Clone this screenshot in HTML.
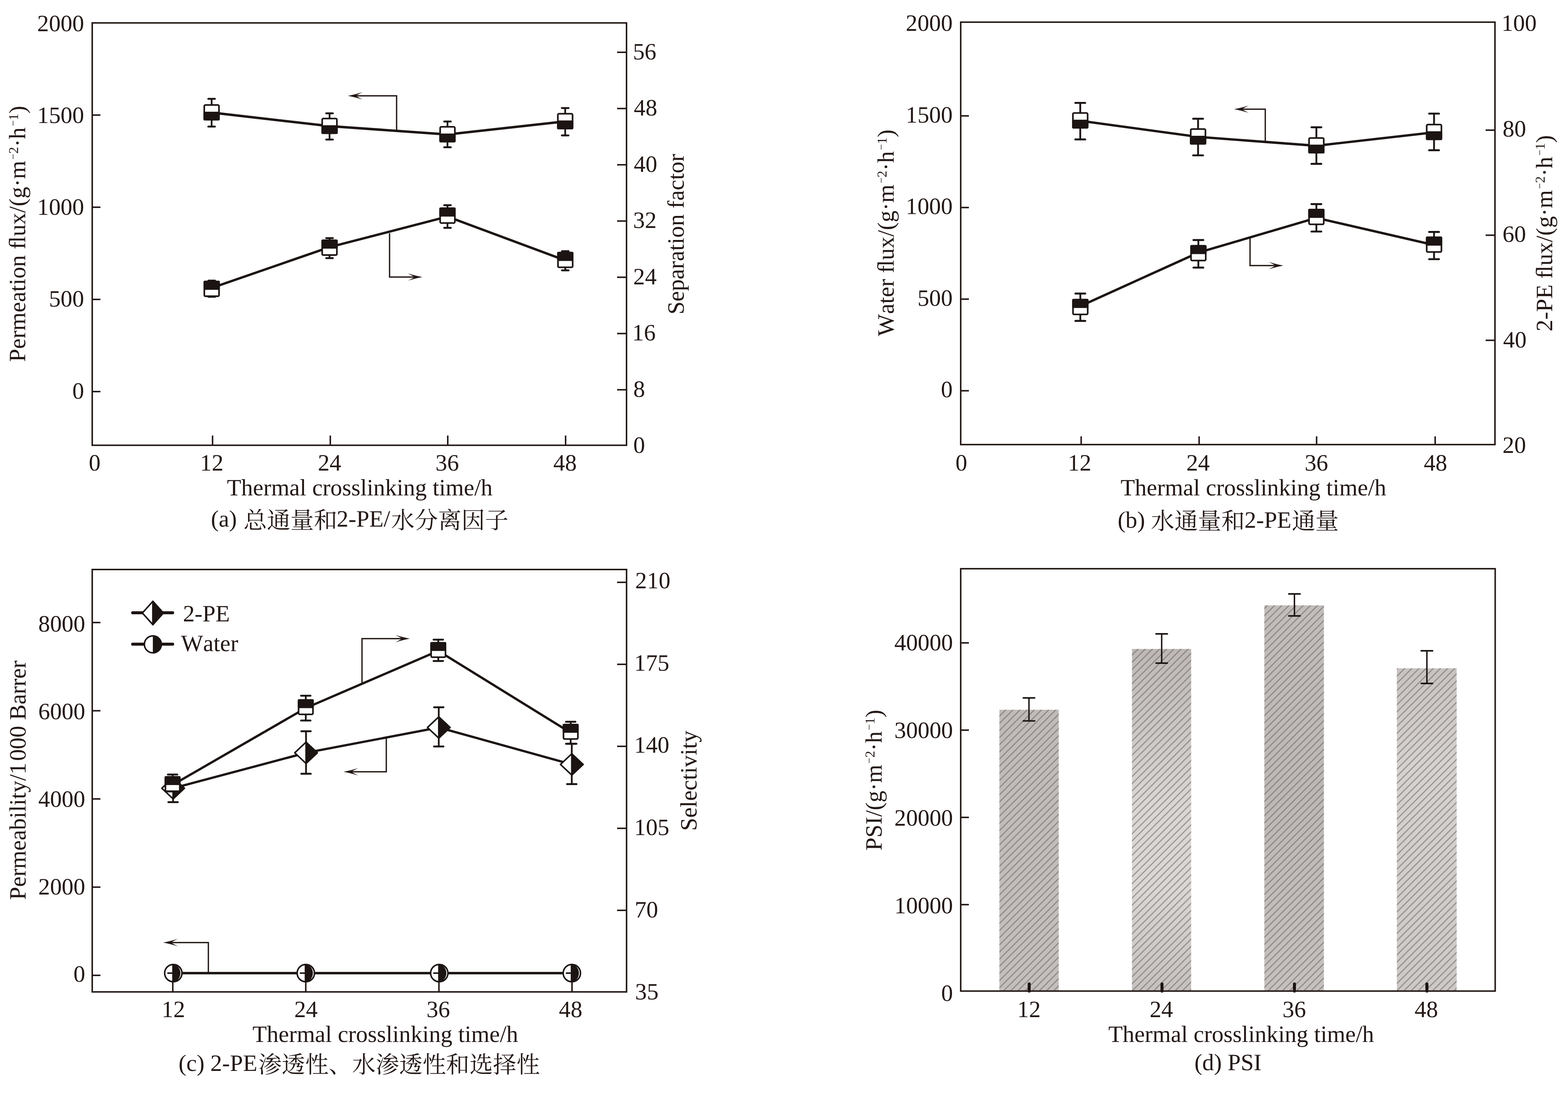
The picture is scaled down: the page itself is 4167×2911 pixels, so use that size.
<!DOCTYPE html>
<html><head><meta charset="utf-8"><title>figure</title>
<style>
html,body{margin:0;padding:0;background:#fff;}
body{width:4167px;height:2911px;overflow:hidden;}
svg{display:block;will-change:transform;}
text{font-family:"Liberation Serif",serif;fill:#231815;font-kerning:none;text-rendering:geometricPrecision;}
text.cjk{font-family:"Liberation Serif","Noto Serif CJK SC",serif;}
</style></head><body>
<svg width="4167" height="2911" viewBox="0 0 4167 2911">
<defs>
<pattern id="hatch" width="19" height="19" patternUnits="userSpaceOnUse">
<path d="M-2,21 L21,-2 M-2,2 L2,-2 M17,21 L21,17" stroke="#5a5453" stroke-opacity="0.5" stroke-width="3.0" fill="none"/>
</pattern>
<linearGradient id="gb1" x1="0" y1="0" x2="0" y2="1"><stop offset="0" stop-color="#c0bab8"/><stop offset="1" stop-color="#c4bfbd"/></linearGradient>
<linearGradient id="gb2" x1="0" y1="0" x2="0" y2="1"><stop offset="0" stop-color="#bdb8b6"/><stop offset="0.45" stop-color="#d9d6d3"/><stop offset="0.7" stop-color="#dad7d4"/><stop offset="1" stop-color="#c6c1bf"/></linearGradient>
<linearGradient id="gb3" x1="0" y1="0" x2="0" y2="1"><stop offset="0" stop-color="#c2bdbb"/><stop offset="0.5" stop-color="#bdb8b6"/><stop offset="1" stop-color="#c6c1bf"/></linearGradient>
<linearGradient id="gb4" x1="0" y1="0" x2="0" y2="1"><stop offset="0" stop-color="#c8c3c1"/><stop offset="0.3" stop-color="#d6d2d0"/><stop offset="1" stop-color="#cdc9c7"/></linearGradient>
</defs>
<rect width="4167" height="2911" fill="#fff"/>

<rect x="245.1" y="60.9" width="1419.9" height="1122.8" fill="none" stroke="#231815" stroke-width="4.0"/>
<line x1="245.1" y1="305.9" x2="266.9" y2="305.9" stroke="#231815" stroke-width="4.0" stroke-linecap="butt"/>
<line x1="245.1" y1="550.9" x2="266.9" y2="550.9" stroke="#231815" stroke-width="4.0" stroke-linecap="butt"/>
<line x1="245.1" y1="796.0" x2="266.9" y2="796.0" stroke="#231815" stroke-width="4.0" stroke-linecap="butt"/>
<line x1="245.1" y1="1041.0" x2="266.9" y2="1041.0" stroke="#231815" stroke-width="4.0" stroke-linecap="butt"/>
<text x="223.4" y="82.5" font-size="62.3" text-anchor="end" >2000</text>
<text x="223.4" y="326.8" font-size="62.3" text-anchor="end" >1500</text>
<text x="223.4" y="571.0" font-size="62.3" text-anchor="end" >1000</text>
<text x="223.4" y="815.3" font-size="62.3" text-anchor="end" >500</text>
<text x="223.4" y="1059.6" font-size="62.3" text-anchor="end" >0</text>
<line x1="1640.0" y1="139.0" x2="1665.0" y2="139.0" stroke="#231815" stroke-width="4.0" stroke-linecap="butt"/>
<line x1="1640.0" y1="288.5" x2="1665.0" y2="288.5" stroke="#231815" stroke-width="4.0" stroke-linecap="butt"/>
<line x1="1640.0" y1="438.1" x2="1665.0" y2="438.1" stroke="#231815" stroke-width="4.0" stroke-linecap="butt"/>
<line x1="1640.0" y1="587.6" x2="1665.0" y2="587.6" stroke="#231815" stroke-width="4.0" stroke-linecap="butt"/>
<line x1="1640.0" y1="737.1" x2="1665.0" y2="737.1" stroke="#231815" stroke-width="4.0" stroke-linecap="butt"/>
<line x1="1640.0" y1="886.7" x2="1665.0" y2="886.7" stroke="#231815" stroke-width="4.0" stroke-linecap="butt"/>
<line x1="1640.0" y1="1036.2" x2="1665.0" y2="1036.2" stroke="#231815" stroke-width="4.0" stroke-linecap="butt"/>
<text x="1681.9" y="157.6" font-size="62.3" text-anchor="start" >56</text>
<text x="1684.3" y="307.1" font-size="62.3" text-anchor="start" >48</text>
<text x="1684.3" y="456.7" font-size="62.3" text-anchor="start" >40</text>
<text x="1682.5" y="606.2" font-size="62.3" text-anchor="start" >32</text>
<text x="1682.8" y="755.8" font-size="62.3" text-anchor="start" >24</text>
<text x="1680.0" y="905.3" font-size="62.3" text-anchor="start" >16</text>
<text x="1683.1" y="1054.9" font-size="62.3" text-anchor="start" >8</text>
<text x="1683.1" y="1204.4" font-size="62.3" text-anchor="start" >0</text>
<line x1="564.9" y1="1183.7" x2="564.9" y2="1157.9" stroke="#231815" stroke-width="4.0" stroke-linecap="butt"/>
<line x1="877.8" y1="1183.7" x2="877.8" y2="1157.9" stroke="#231815" stroke-width="4.0" stroke-linecap="butt"/>
<line x1="1189.9" y1="1183.7" x2="1189.9" y2="1157.9" stroke="#231815" stroke-width="4.0" stroke-linecap="butt"/>
<line x1="1503.1" y1="1183.7" x2="1503.1" y2="1157.9" stroke="#231815" stroke-width="4.0" stroke-linecap="butt"/>
<text x="251.6" y="1251.3" font-size="62.3" text-anchor="middle" >0</text>
<text x="562.7" y="1251.3" font-size="62.3" text-anchor="middle" >12</text>
<text x="875.8" y="1251.3" font-size="62.3" text-anchor="middle" >24</text>
<text x="1188.4" y="1251.3" font-size="62.3" text-anchor="middle" >36</text>
<text x="1501.6" y="1251.3" font-size="62.3" text-anchor="middle" >48</text>
<text x="956.0" y="1316.8" font-size="62.3" text-anchor="middle" >Thermal crosslinking time/h</text>
<text transform="translate(67.4,621.6) rotate(-90)" font-size="62.3" text-anchor="middle" >Permeation ﬂux/(g·m<tspan dx="3" font-size="28" dy="-23.7">−</tspan><tspan font-size="36" dy="4.5">2</tspan><tspan dy="19.2">·h</tspan><tspan dx="3" font-size="28" dy="-23.7">−</tspan><tspan font-size="36" dy="4.5">1</tspan><tspan dy="19.2">)</tspan></text>
<text transform="translate(1816.5,622.5) rotate(-90)" font-size="62.3" text-anchor="middle" >Separation factor</text>
<polyline points="562.4,299.3 875.8,335.3 1189.2,357.5 1502.0,322.7" fill="none" stroke="#1b1412" stroke-width="6.6" stroke-linejoin="round"/>
<polyline points="562.6,765.5 875.8,657.0 1189.2,575.8 1502.3,692.2" fill="none" stroke="#1b1412" stroke-width="6.3" stroke-linejoin="round"/>
<line x1="562.4" y1="262.8" x2="562.4" y2="336.5" stroke="#1b1412" stroke-width="4.6" stroke-linecap="butt"/>
<line x1="553.6" y1="262.8" x2="571.1" y2="262.8" stroke="#1b1412" stroke-width="5.0" stroke-linecap="round"/>
<line x1="553.6" y1="336.5" x2="571.1" y2="336.5" stroke="#1b1412" stroke-width="5.0" stroke-linecap="round"/>
<rect x="542.8" y="279.1" width="39.1" height="39.1" rx="3" fill="#fff" stroke="#1b1412" stroke-width="4.3"/>
<rect x="540.7" y="296.9" width="43.4" height="23.4" rx="3" fill="#1b1412"/>
<line x1="875.8" y1="301.2" x2="875.8" y2="371.0" stroke="#1b1412" stroke-width="4.6" stroke-linecap="butt"/>
<line x1="867.0" y1="301.2" x2="884.5" y2="301.2" stroke="#1b1412" stroke-width="5.0" stroke-linecap="round"/>
<line x1="867.0" y1="371.0" x2="884.5" y2="371.0" stroke="#1b1412" stroke-width="5.0" stroke-linecap="round"/>
<rect x="856.2" y="315.1" width="39.1" height="39.1" rx="3" fill="#fff" stroke="#1b1412" stroke-width="4.3"/>
<rect x="854.1" y="332.9" width="43.4" height="23.4" rx="3" fill="#1b1412"/>
<line x1="1189.2" y1="323.0" x2="1189.2" y2="391.5" stroke="#1b1412" stroke-width="4.6" stroke-linecap="butt"/>
<line x1="1180.5" y1="323.0" x2="1198.0" y2="323.0" stroke="#1b1412" stroke-width="5.0" stroke-linecap="round"/>
<line x1="1180.5" y1="391.5" x2="1198.0" y2="391.5" stroke="#1b1412" stroke-width="5.0" stroke-linecap="round"/>
<rect x="1169.7" y="337.2" width="39.1" height="39.1" rx="3" fill="#fff" stroke="#1b1412" stroke-width="4.3"/>
<rect x="1167.5" y="355.1" width="43.4" height="23.4" rx="3" fill="#1b1412"/>
<line x1="1502.0" y1="287.2" x2="1502.0" y2="360.0" stroke="#1b1412" stroke-width="4.6" stroke-linecap="butt"/>
<line x1="1493.2" y1="287.2" x2="1510.8" y2="287.2" stroke="#1b1412" stroke-width="5.0" stroke-linecap="round"/>
<line x1="1493.2" y1="360.0" x2="1510.8" y2="360.0" stroke="#1b1412" stroke-width="5.0" stroke-linecap="round"/>
<rect x="1482.5" y="302.4" width="39.1" height="39.1" rx="3" fill="#fff" stroke="#1b1412" stroke-width="4.3"/>
<rect x="1480.3" y="320.3" width="43.4" height="23.4" rx="3" fill="#1b1412"/>
<line x1="562.6" y1="746.0" x2="562.6" y2="789.0" stroke="#1b1412" stroke-width="4.6" stroke-linecap="butt"/>
<line x1="553.9" y1="746.0" x2="571.4" y2="746.0" stroke="#1b1412" stroke-width="5.0" stroke-linecap="round"/>
<line x1="553.9" y1="789.0" x2="571.4" y2="789.0" stroke="#1b1412" stroke-width="5.0" stroke-linecap="round"/>
<rect x="543.0" y="748.4" width="39.1" height="39.1" rx="3" fill="#fff" stroke="#1b1412" stroke-width="4.3"/>
<rect x="540.9" y="746.3" width="43.4" height="24.2" rx="3" fill="#1b1412"/>
<line x1="875.8" y1="633.0" x2="875.8" y2="686.2" stroke="#1b1412" stroke-width="4.6" stroke-linecap="butt"/>
<line x1="867.0" y1="633.0" x2="884.5" y2="633.0" stroke="#1b1412" stroke-width="5.0" stroke-linecap="round"/>
<line x1="867.0" y1="686.2" x2="884.5" y2="686.2" stroke="#1b1412" stroke-width="5.0" stroke-linecap="round"/>
<rect x="856.2" y="638.9" width="39.1" height="39.1" rx="3" fill="#fff" stroke="#1b1412" stroke-width="4.3"/>
<rect x="854.1" y="636.8" width="43.4" height="24.2" rx="3" fill="#1b1412"/>
<line x1="1189.2" y1="545.6" x2="1189.2" y2="605.8" stroke="#1b1412" stroke-width="4.6" stroke-linecap="butt"/>
<line x1="1180.5" y1="545.6" x2="1198.0" y2="545.6" stroke="#1b1412" stroke-width="5.0" stroke-linecap="round"/>
<line x1="1180.5" y1="605.8" x2="1198.0" y2="605.8" stroke="#1b1412" stroke-width="5.0" stroke-linecap="round"/>
<rect x="1169.7" y="553.7" width="39.1" height="39.1" rx="3" fill="#fff" stroke="#1b1412" stroke-width="4.3"/>
<rect x="1167.5" y="551.6" width="43.4" height="24.2" rx="3" fill="#1b1412"/>
<line x1="1502.3" y1="667.7" x2="1502.3" y2="718.7" stroke="#1b1412" stroke-width="4.6" stroke-linecap="butt"/>
<line x1="1493.5" y1="667.7" x2="1511.0" y2="667.7" stroke="#1b1412" stroke-width="5.0" stroke-linecap="round"/>
<line x1="1493.5" y1="718.7" x2="1511.0" y2="718.7" stroke="#1b1412" stroke-width="5.0" stroke-linecap="round"/>
<rect x="1482.8" y="671.6" width="39.1" height="39.1" rx="3" fill="#fff" stroke="#1b1412" stroke-width="4.3"/>
<rect x="1480.6" y="669.5" width="43.4" height="24.2" rx="3" fill="#1b1412"/>
<polyline points="1054.0,349.0 1054.0,254.8 945.8,254.8" fill="none" stroke="#231815" stroke-width="3.5" stroke-linejoin="miter"/>
<path d="M924.5,254.8 Q945.8,250.7 963.2,245.0 L948.2,253.1 L948.2,256.6 L963.2,264.6 Q945.8,258.9 924.5,254.8 Z" fill="#231815"/>
<polyline points="1035.3,620.0 1035.3,736.6 1101.3,736.6" fill="none" stroke="#231815" stroke-width="3.5" stroke-linejoin="miter"/>
<path d="M1122.6,736.6 Q1101.3,732.5 1083.9,726.8 L1098.9,734.9 L1098.9,738.4 L1083.9,746.4 Q1101.3,740.7 1122.6,736.6 Z" fill="#231815"/>
<text x="560.4" y="1399.8" font-size="62.3" text-anchor="start">(a)</text>
<text class="cjk" x="646.9" y="1404.6" font-size="62.4" text-anchor="start">总通量和</text>
<text x="894.8" y="1399.8" font-size="62.3" text-anchor="start">2-PE/</text>
<text class="cjk" x="1039.2" y="1404.6" font-size="62.4" text-anchor="start">水分离因子</text>
<rect x="2553.1" y="58.9" width="1419.8" height="1123.0" fill="none" stroke="#231815" stroke-width="4.0"/>
<line x1="2553.1" y1="308.1" x2="2574.9" y2="308.1" stroke="#231815" stroke-width="4.0" stroke-linecap="butt"/>
<line x1="2553.1" y1="551.7" x2="2574.9" y2="551.7" stroke="#231815" stroke-width="4.0" stroke-linecap="butt"/>
<line x1="2553.1" y1="795.2" x2="2574.9" y2="795.2" stroke="#231815" stroke-width="4.0" stroke-linecap="butt"/>
<line x1="2553.1" y1="1038.8" x2="2574.9" y2="1038.8" stroke="#231815" stroke-width="4.0" stroke-linecap="butt"/>
<text x="2531.6" y="82.4" font-size="62.3" text-anchor="end" >2000</text>
<text x="2531.6" y="325.9" font-size="62.3" text-anchor="end" >1500</text>
<text x="2531.6" y="569.4" font-size="62.3" text-anchor="end" >1000</text>
<text x="2531.6" y="812.9" font-size="62.3" text-anchor="end" >500</text>
<text x="2531.6" y="1056.4" font-size="62.3" text-anchor="end" >0</text>
<line x1="3948.1" y1="346.0" x2="3972.9" y2="346.0" stroke="#231815" stroke-width="4.0" stroke-linecap="butt"/>
<line x1="3948.1" y1="625.3" x2="3972.9" y2="625.3" stroke="#231815" stroke-width="4.0" stroke-linecap="butt"/>
<line x1="3948.1" y1="904.7" x2="3972.9" y2="904.7" stroke="#231815" stroke-width="4.0" stroke-linecap="butt"/>
<text x="3990.2" y="82.4" font-size="62.3" text-anchor="start" >100</text>
<text x="3993.3" y="362.9" font-size="62.3" text-anchor="start" >80</text>
<text x="3993.0" y="643.3" font-size="62.3" text-anchor="start" >60</text>
<text x="3994.5" y="923.7" font-size="62.3" text-anchor="start" >40</text>
<text x="3993.0" y="1204.2" font-size="62.3" text-anchor="start" >20</text>
<line x1="2873.2" y1="1181.9" x2="2873.2" y2="1160.1" stroke="#231815" stroke-width="4.0" stroke-linecap="butt"/>
<line x1="3186.7" y1="1181.9" x2="3186.7" y2="1160.1" stroke="#231815" stroke-width="4.0" stroke-linecap="butt"/>
<line x1="3498.9" y1="1181.9" x2="3498.9" y2="1160.1" stroke="#231815" stroke-width="4.0" stroke-linecap="butt"/>
<line x1="3814.0" y1="1181.9" x2="3814.0" y2="1160.1" stroke="#231815" stroke-width="4.0" stroke-linecap="butt"/>
<text x="2554.9" y="1251.0" font-size="62.3" text-anchor="middle" >0</text>
<text x="2869.0" y="1251.0" font-size="62.3" text-anchor="middle" >12</text>
<text x="3183.8" y="1251.0" font-size="62.3" text-anchor="middle" >24</text>
<text x="3498.3" y="1251.0" font-size="62.3" text-anchor="middle" >36</text>
<text x="3814.8" y="1251.0" font-size="62.3" text-anchor="middle" >48</text>
<text x="3331.0" y="1316.8" font-size="62.3" text-anchor="middle" >Thermal crosslinking time/h</text>
<text transform="translate(2375.0,619.0) rotate(-90)" font-size="62.3" text-anchor="middle" >Water ﬂux/(g·m<tspan dx="3" font-size="28" dy="-23.7">−</tspan><tspan font-size="36" dy="4.5">2</tspan><tspan dy="19.2">·h</tspan><tspan dx="3" font-size="28" dy="-23.7">−</tspan><tspan font-size="36" dy="4.5">1</tspan><tspan dy="19.2">)</tspan></text>
<text transform="translate(4124.6,620.0) rotate(-90)" font-size="62.3" text-anchor="middle" >2-PE ﬂux/(g·m<tspan dx="3" font-size="28" dy="-23.7">−</tspan><tspan font-size="36" dy="4.5">2</tspan><tspan dy="19.2">·h</tspan><tspan dx="3" font-size="28" dy="-23.7">−</tspan><tspan font-size="36" dy="4.5">1</tspan><tspan dy="19.2">)</tspan></text>
<polyline points="2870.8,321.2 3183.9,363.9 3498.3,387.5 3811.0,351.9" fill="none" stroke="#1b1412" stroke-width="6.3" stroke-linejoin="round"/>
<polyline points="2871.0,813.8 3184.7,671.6 3498.3,579.3 3811.0,651.4" fill="none" stroke="#1b1412" stroke-width="6.3" stroke-linejoin="round"/>
<line x1="2870.8" y1="273.5" x2="2870.8" y2="370.7" stroke="#1b1412" stroke-width="4.8" stroke-linecap="butt"/>
<line x1="2857.8" y1="273.5" x2="2883.8" y2="273.5" stroke="#1b1412" stroke-width="5.2" stroke-linecap="round"/>
<line x1="2857.8" y1="370.7" x2="2883.8" y2="370.7" stroke="#1b1412" stroke-width="5.2" stroke-linecap="round"/>
<rect x="2851.3" y="300.4" width="39.1" height="39.1" rx="3" fill="#fff" stroke="#1b1412" stroke-width="4.3"/>
<rect x="2849.1" y="318.3" width="43.4" height="23.4" rx="3" fill="#1b1412"/>
<line x1="3183.9" y1="315.7" x2="3183.9" y2="413.0" stroke="#1b1412" stroke-width="4.8" stroke-linecap="butt"/>
<line x1="3170.9" y1="315.7" x2="3196.9" y2="315.7" stroke="#1b1412" stroke-width="5.2" stroke-linecap="round"/>
<line x1="3170.9" y1="413.0" x2="3196.9" y2="413.0" stroke="#1b1412" stroke-width="5.2" stroke-linecap="round"/>
<rect x="3164.4" y="343.1" width="39.1" height="39.1" rx="3" fill="#fff" stroke="#1b1412" stroke-width="4.3"/>
<rect x="3162.2" y="361.0" width="43.4" height="23.4" rx="3" fill="#1b1412"/>
<line x1="3498.3" y1="338.3" x2="3498.3" y2="435.6" stroke="#1b1412" stroke-width="4.8" stroke-linecap="butt"/>
<line x1="3485.3" y1="338.3" x2="3511.3" y2="338.3" stroke="#1b1412" stroke-width="5.2" stroke-linecap="round"/>
<line x1="3485.3" y1="435.6" x2="3511.3" y2="435.6" stroke="#1b1412" stroke-width="5.2" stroke-linecap="round"/>
<rect x="3478.8" y="366.8" width="39.1" height="39.1" rx="3" fill="#fff" stroke="#1b1412" stroke-width="4.3"/>
<rect x="3476.6" y="384.6" width="43.4" height="23.4" rx="3" fill="#1b1412"/>
<line x1="3811.0" y1="302.0" x2="3811.0" y2="399.4" stroke="#1b1412" stroke-width="4.8" stroke-linecap="butt"/>
<line x1="3798.0" y1="302.0" x2="3824.0" y2="302.0" stroke="#1b1412" stroke-width="5.2" stroke-linecap="round"/>
<line x1="3798.0" y1="399.4" x2="3824.0" y2="399.4" stroke="#1b1412" stroke-width="5.2" stroke-linecap="round"/>
<rect x="3791.5" y="331.1" width="39.1" height="39.1" rx="3" fill="#fff" stroke="#1b1412" stroke-width="4.3"/>
<rect x="3789.3" y="349.0" width="43.4" height="23.4" rx="3" fill="#1b1412"/>
<line x1="2871.0" y1="780.3" x2="2871.0" y2="853.2" stroke="#1b1412" stroke-width="4.8" stroke-linecap="butt"/>
<line x1="2858.0" y1="780.3" x2="2884.0" y2="780.3" stroke="#1b1412" stroke-width="5.2" stroke-linecap="round"/>
<line x1="2858.0" y1="853.2" x2="2884.0" y2="853.2" stroke="#1b1412" stroke-width="5.2" stroke-linecap="round"/>
<rect x="2851.5" y="796.7" width="39.1" height="39.1" rx="3" fill="#fff" stroke="#1b1412" stroke-width="4.3"/>
<rect x="2849.3" y="794.6" width="43.4" height="24.2" rx="3" fill="#1b1412"/>
<line x1="3184.7" y1="638.1" x2="3184.7" y2="711.3" stroke="#1b1412" stroke-width="4.8" stroke-linecap="butt"/>
<line x1="3171.7" y1="638.1" x2="3197.7" y2="638.1" stroke="#1b1412" stroke-width="5.2" stroke-linecap="round"/>
<line x1="3171.7" y1="711.3" x2="3197.7" y2="711.3" stroke="#1b1412" stroke-width="5.2" stroke-linecap="round"/>
<rect x="3165.2" y="653.5" width="39.1" height="39.1" rx="3" fill="#fff" stroke="#1b1412" stroke-width="4.3"/>
<rect x="3163.0" y="651.4" width="43.4" height="24.2" rx="3" fill="#1b1412"/>
<line x1="3498.3" y1="542.6" x2="3498.3" y2="615.5" stroke="#1b1412" stroke-width="4.8" stroke-linecap="butt"/>
<line x1="3485.3" y1="542.6" x2="3511.3" y2="542.6" stroke="#1b1412" stroke-width="5.2" stroke-linecap="round"/>
<line x1="3485.3" y1="615.5" x2="3511.3" y2="615.5" stroke="#1b1412" stroke-width="5.2" stroke-linecap="round"/>
<rect x="3478.8" y="557.2" width="39.1" height="39.1" rx="3" fill="#fff" stroke="#1b1412" stroke-width="4.3"/>
<rect x="3476.6" y="555.1" width="43.4" height="24.2" rx="3" fill="#1b1412"/>
<line x1="3811.0" y1="616.7" x2="3811.0" y2="689.0" stroke="#1b1412" stroke-width="4.8" stroke-linecap="butt"/>
<line x1="3798.0" y1="616.7" x2="3824.0" y2="616.7" stroke="#1b1412" stroke-width="5.2" stroke-linecap="round"/>
<line x1="3798.0" y1="689.0" x2="3824.0" y2="689.0" stroke="#1b1412" stroke-width="5.2" stroke-linecap="round"/>
<rect x="3791.5" y="630.8" width="39.1" height="39.1" rx="3" fill="#fff" stroke="#1b1412" stroke-width="4.3"/>
<rect x="3789.3" y="628.7" width="43.4" height="24.2" rx="3" fill="#1b1412"/>
<polyline points="3362.5,374.5 3362.5,290.3 3300.9,290.3" fill="none" stroke="#231815" stroke-width="3.5" stroke-linejoin="miter"/>
<path d="M3279.6,290.3 Q3300.9,286.2 3318.3,280.5 L3303.3,288.6 L3303.3,292.1 L3318.3,300.1 Q3300.9,294.4 3279.6,290.3 Z" fill="#231815"/>
<polyline points="3322.0,632.7 3322.0,706.0 3389.3,706.0" fill="none" stroke="#231815" stroke-width="3.5" stroke-linejoin="miter"/>
<path d="M3410.6,706.0 Q3389.3,701.9 3371.9,696.2 L3386.9,704.2 L3386.9,707.8 L3371.9,715.8 Q3389.3,710.1 3410.6,706.0 Z" fill="#231815"/>
<text x="2970.3" y="1402.5" font-size="62.3" text-anchor="start">(b)</text>
<text class="cjk" x="3058.5" y="1407.3" font-size="62.4" text-anchor="start">水通量和</text>
<text x="3307.3" y="1402.5" font-size="62.3" text-anchor="start">2-PE</text>
<text class="cjk" x="3433.0" y="1407.3" font-size="62.4" text-anchor="start">通量</text>
<rect x="245.1" y="1514.0" width="1420.0" height="1122.9" fill="none" stroke="#231815" stroke-width="4.0"/>
<line x1="245.1" y1="1655.0" x2="266.9" y2="1655.0" stroke="#231815" stroke-width="4.0" stroke-linecap="butt"/>
<line x1="245.1" y1="1889.5" x2="266.9" y2="1889.5" stroke="#231815" stroke-width="4.0" stroke-linecap="butt"/>
<line x1="245.1" y1="2123.9" x2="266.9" y2="2123.9" stroke="#231815" stroke-width="4.0" stroke-linecap="butt"/>
<line x1="245.1" y1="2358.4" x2="266.9" y2="2358.4" stroke="#231815" stroke-width="4.0" stroke-linecap="butt"/>
<line x1="245.1" y1="2592.9" x2="266.9" y2="2592.9" stroke="#231815" stroke-width="4.0" stroke-linecap="butt"/>
<text x="226.4" y="1679.4" font-size="62.3" text-anchor="end" >8000</text>
<text x="226.4" y="1912.1" font-size="62.3" text-anchor="end" >6000</text>
<text x="226.4" y="2144.9" font-size="62.3" text-anchor="end" >4000</text>
<text x="226.4" y="2377.6" font-size="62.3" text-anchor="end" >2000</text>
<text x="226.4" y="2610.3" font-size="62.3" text-anchor="end" >0</text>
<line x1="1640.0" y1="1548.1" x2="1665.0" y2="1548.1" stroke="#231815" stroke-width="4.0" stroke-linecap="butt"/>
<line x1="1640.0" y1="1766.1" x2="1665.0" y2="1766.1" stroke="#231815" stroke-width="4.0" stroke-linecap="butt"/>
<line x1="1640.0" y1="1984.1" x2="1665.0" y2="1984.1" stroke="#231815" stroke-width="4.0" stroke-linecap="butt"/>
<line x1="1640.0" y1="2202.1" x2="1665.0" y2="2202.1" stroke="#231815" stroke-width="4.0" stroke-linecap="butt"/>
<line x1="1640.0" y1="2420.1" x2="1665.0" y2="2420.1" stroke="#231815" stroke-width="4.0" stroke-linecap="butt"/>
<text x="1688.1" y="1564.4" font-size="62.3" text-anchor="start" >210</text>
<text x="1685.3" y="1782.9" font-size="62.3" text-anchor="start" >175</text>
<text x="1685.3" y="2001.4" font-size="62.3" text-anchor="start" >140</text>
<text x="1685.3" y="2220.0" font-size="62.3" text-anchor="start" >105</text>
<text x="1686.7" y="2438.5" font-size="62.3" text-anchor="start" >70</text>
<text x="1687.8" y="2657.0" font-size="62.3" text-anchor="start" >35</text>
<line x1="459.2" y1="2636.9" x2="459.2" y2="2610.9" stroke="#231815" stroke-width="4.0" stroke-linecap="butt"/>
<line x1="812.6" y1="2636.9" x2="812.6" y2="2610.9" stroke="#231815" stroke-width="4.0" stroke-linecap="butt"/>
<line x1="1166.5" y1="2636.9" x2="1166.5" y2="2610.9" stroke="#231815" stroke-width="4.0" stroke-linecap="butt"/>
<line x1="1520.1" y1="2636.9" x2="1520.1" y2="2610.9" stroke="#231815" stroke-width="4.0" stroke-linecap="butt"/>
<text x="460.7" y="2704.0" font-size="62.3" text-anchor="middle" >12</text>
<text x="813.1" y="2704.0" font-size="62.3" text-anchor="middle" >24</text>
<text x="1164.7" y="2704.0" font-size="62.3" text-anchor="middle" >36</text>
<text x="1516.5" y="2704.0" font-size="62.3" text-anchor="middle" >48</text>
<text x="1024.0" y="2769.6" font-size="62.3" text-anchor="middle" >Thermal crosslinking time/h</text>
<text transform="translate(67.7,2074.2) rotate(-90)" font-size="62.3" text-anchor="middle" letter-spacing="-0.15">Permeability/1<tspan dx="5">000</tspan> Barrer</text>
<text transform="translate(1850.9,2075.5) rotate(-90)" font-size="62.3" text-anchor="middle" >Selectivity</text>
<line x1="352.5" y1="1629.0" x2="458.8" y2="1629.0" stroke="#1b1412" stroke-width="8" stroke-linecap="round"/>
<path d="M378.4,1629.6 L406.2,1598.5 L434.0,1629.6 L406.2,1660.7 Z" fill="#fff" stroke="#1b1412" stroke-width="4" stroke-linejoin="round"/>
<path d="M406.2,1598.5 L434.0,1629.6 L406.2,1660.7 Z" fill="#1b1412" stroke="#1b1412" stroke-width="4" stroke-linejoin="round"/>
<text x="486.2" y="1652.4" font-size="62.3" text-anchor="start" >2-PE</text>
<line x1="352.5" y1="1712.5" x2="458.8" y2="1712.5" stroke="#1b1412" stroke-width="8" stroke-linecap="round"/>
<circle cx="406.2" cy="1713.0" r="22.5" fill="#fff" stroke="#1b1412" stroke-width="4"/>
<path d="M406.2,1688.5 A24.5,24.5 0 0 1 406.2,1737.5 Z" fill="#1b1412"/>
<text x="481.0" y="1731.0" font-size="62.3" text-anchor="start" >Water</text>
<polyline points="459.2,2587.0 812.6,2587.0 1166.5,2587.0 1520.1,2587.0" fill="none" stroke="#1b1412" stroke-width="6.6" stroke-linejoin="round"/>
<polyline points="460.0,2095.5 813.3,2001.3 1166.0,1934.0 1519.5,2032.2" fill="none" stroke="#1b1412" stroke-width="6.1" stroke-linejoin="round"/>
<polyline points="458.7,2086.7 812.6,1882.3 1164.8,1730.3 1516.6,1947.8" fill="none" stroke="#1b1412" stroke-width="6.1" stroke-linejoin="round"/>
<line x1="460.0" y1="2070.0" x2="460.0" y2="2132.6" stroke="#1b1412" stroke-width="4.6" stroke-linecap="butt"/>
<line x1="447.5" y1="2070.0" x2="472.5" y2="2070.0" stroke="#1b1412" stroke-width="5.0" stroke-linecap="round"/>
<line x1="447.5" y1="2132.6" x2="472.5" y2="2132.6" stroke="#1b1412" stroke-width="5.0" stroke-linecap="round"/>
<path d="M430.0,2095.5 L460.0,2067.2 L490.0,2095.5 L460.0,2123.8 Z" fill="#fff" stroke="#1b1412" stroke-width="4" stroke-linejoin="round"/>
<path d="M460.0,2067.2 L490.0,2095.5 L460.0,2123.8 Z" fill="#1b1412" stroke="#1b1412" stroke-width="4" stroke-linejoin="round"/>
<line x1="813.3" y1="1944.1" x2="813.3" y2="2057.1" stroke="#1b1412" stroke-width="4.6" stroke-linecap="butt"/>
<line x1="800.8" y1="1944.1" x2="825.8" y2="1944.1" stroke="#1b1412" stroke-width="5.0" stroke-linecap="round"/>
<line x1="800.8" y1="2057.1" x2="825.8" y2="2057.1" stroke="#1b1412" stroke-width="5.0" stroke-linecap="round"/>
<path d="M783.3,2001.3 L813.3,1973.0 L843.3,2001.3 L813.3,2029.6 Z" fill="#fff" stroke="#1b1412" stroke-width="4" stroke-linejoin="round"/>
<path d="M813.3,1973.0 L843.3,2001.3 L813.3,2029.6 Z" fill="#1b1412" stroke="#1b1412" stroke-width="4" stroke-linejoin="round"/>
<line x1="1166.0" y1="1880.3" x2="1166.0" y2="1984.5" stroke="#1b1412" stroke-width="4.6" stroke-linecap="butt"/>
<line x1="1153.5" y1="1880.3" x2="1178.5" y2="1880.3" stroke="#1b1412" stroke-width="5.0" stroke-linecap="round"/>
<line x1="1153.5" y1="1984.5" x2="1178.5" y2="1984.5" stroke="#1b1412" stroke-width="5.0" stroke-linecap="round"/>
<path d="M1136.0,1934.0 L1166.0,1905.7 L1196.0,1934.0 L1166.0,1962.3 Z" fill="#fff" stroke="#1b1412" stroke-width="4" stroke-linejoin="round"/>
<path d="M1166.0,1905.7 L1196.0,1934.0 L1166.0,1962.3 Z" fill="#1b1412" stroke="#1b1412" stroke-width="4" stroke-linejoin="round"/>
<line x1="1519.5" y1="1977.2" x2="1519.5" y2="2084.6" stroke="#1b1412" stroke-width="4.6" stroke-linecap="butt"/>
<line x1="1507.0" y1="1977.2" x2="1532.0" y2="1977.2" stroke="#1b1412" stroke-width="5.0" stroke-linecap="round"/>
<line x1="1507.0" y1="2084.6" x2="1532.0" y2="2084.6" stroke="#1b1412" stroke-width="5.0" stroke-linecap="round"/>
<path d="M1489.5,2032.2 L1519.5,2003.9 L1549.5,2032.2 L1519.5,2060.5 Z" fill="#fff" stroke="#1b1412" stroke-width="4" stroke-linejoin="round"/>
<path d="M1519.5,2003.9 L1549.5,2032.2 L1519.5,2060.5 Z" fill="#1b1412" stroke="#1b1412" stroke-width="4" stroke-linejoin="round"/>
<line x1="458.7" y1="2059.0" x2="458.7" y2="2104.0" stroke="#1b1412" stroke-width="4.6" stroke-linecap="butt"/>
<line x1="446.2" y1="2059.0" x2="471.2" y2="2059.0" stroke="#1b1412" stroke-width="5.0" stroke-linecap="round"/>
<line x1="446.2" y1="2104.0" x2="471.2" y2="2104.0" stroke="#1b1412" stroke-width="5.0" stroke-linecap="round"/>
<rect x="439.6" y="2065.3" width="38.2" height="38.2" rx="3" fill="#fff" stroke="#1b1412" stroke-width="4.3"/>
<rect x="437.4" y="2063.2" width="42.5" height="23.8" rx="3" fill="#1b1412"/>
<line x1="812.6" y1="1849.4" x2="812.6" y2="1915.6" stroke="#1b1412" stroke-width="4.6" stroke-linecap="butt"/>
<line x1="800.1" y1="1849.4" x2="825.1" y2="1849.4" stroke="#1b1412" stroke-width="5.0" stroke-linecap="round"/>
<line x1="800.1" y1="1915.6" x2="825.1" y2="1915.6" stroke="#1b1412" stroke-width="5.0" stroke-linecap="round"/>
<rect x="793.5" y="1860.9" width="38.2" height="38.2" rx="3" fill="#fff" stroke="#1b1412" stroke-width="4.3"/>
<rect x="791.4" y="1858.8" width="42.5" height="23.8" rx="3" fill="#1b1412"/>
<line x1="1164.8" y1="1700.4" x2="1164.8" y2="1757.2" stroke="#1b1412" stroke-width="4.6" stroke-linecap="butt"/>
<line x1="1152.3" y1="1700.4" x2="1177.3" y2="1700.4" stroke="#1b1412" stroke-width="5.0" stroke-linecap="round"/>
<line x1="1152.3" y1="1757.2" x2="1177.3" y2="1757.2" stroke="#1b1412" stroke-width="5.0" stroke-linecap="round"/>
<rect x="1145.7" y="1708.9" width="38.2" height="38.2" rx="3" fill="#fff" stroke="#1b1412" stroke-width="4.3"/>
<rect x="1143.5" y="1706.8" width="42.5" height="23.8" rx="3" fill="#1b1412"/>
<line x1="1516.6" y1="1918.8" x2="1516.6" y2="1977.2" stroke="#1b1412" stroke-width="4.6" stroke-linecap="butt"/>
<line x1="1504.1" y1="1918.8" x2="1529.1" y2="1918.8" stroke="#1b1412" stroke-width="5.0" stroke-linecap="round"/>
<line x1="1504.1" y1="1977.2" x2="1529.1" y2="1977.2" stroke="#1b1412" stroke-width="5.0" stroke-linecap="round"/>
<rect x="1497.5" y="1926.4" width="38.2" height="38.2" rx="3" fill="#fff" stroke="#1b1412" stroke-width="4.3"/>
<rect x="1495.3" y="1924.2" width="42.5" height="23.8" rx="3" fill="#1b1412"/>
<circle cx="460.6" cy="2587.0" r="23.0" fill="#fff" stroke="#1b1412" stroke-width="4"/>
<path d="M457.6,2562.2 A25.0,25.0 0 0 1 457.6,2611.8 Z" fill="#1b1412"/>
<line x1="446.1" y1="2587.0" x2="457.6" y2="2587.0" stroke="#1b1412" stroke-width="4" stroke-linecap="round"/>
<circle cx="812.7" cy="2587.0" r="23.0" fill="#fff" stroke="#1b1412" stroke-width="4"/>
<path d="M809.7,2562.2 A25.0,25.0 0 0 1 809.7,2611.8 Z" fill="#1b1412"/>
<line x1="798.2" y1="2587.0" x2="809.7" y2="2587.0" stroke="#1b1412" stroke-width="4" stroke-linecap="round"/>
<circle cx="1167.4" cy="2587.0" r="23.0" fill="#fff" stroke="#1b1412" stroke-width="4"/>
<path d="M1164.4,2562.2 A25.0,25.0 0 0 1 1164.4,2611.8 Z" fill="#1b1412"/>
<line x1="1152.9" y1="2587.0" x2="1164.4" y2="2587.0" stroke="#1b1412" stroke-width="4" stroke-linecap="round"/>
<circle cx="1519.7" cy="2587.0" r="23.0" fill="#fff" stroke="#1b1412" stroke-width="4"/>
<path d="M1516.7,2562.2 A25.0,25.0 0 0 1 1516.7,2611.8 Z" fill="#1b1412"/>
<line x1="1505.2" y1="2587.0" x2="1516.7" y2="2587.0" stroke="#1b1412" stroke-width="4" stroke-linecap="round"/>
<polyline points="962.0,1816.0 962.0,1697.8 1068.2,1697.8" fill="none" stroke="#231815" stroke-width="3.5" stroke-linejoin="miter"/>
<path d="M1089.5,1697.8 Q1068.2,1693.7 1050.8,1688.0 L1065.8,1696.0 L1065.8,1699.5 L1050.8,1707.6 Q1068.2,1701.9 1089.5,1697.8 Z" fill="#231815"/>
<polyline points="1026.6,1960.0 1026.6,2051.8 934.1,2051.8" fill="none" stroke="#231815" stroke-width="3.5" stroke-linejoin="miter"/>
<path d="M912.8,2051.8 Q934.1,2047.7 951.5,2042.0 L936.5,2050.1 L936.5,2053.6 L951.5,2061.6 Q934.1,2055.9 912.8,2051.8 Z" fill="#231815"/>
<polyline points="553.7,2587.0 553.7,2505.7 454.8,2505.7" fill="none" stroke="#231815" stroke-width="3.5" stroke-linejoin="miter"/>
<path d="M433.5,2505.7 Q454.8,2501.6 472.2,2495.9 L457.2,2503.9 L457.2,2507.4 L472.2,2515.5 Q454.8,2509.8 433.5,2505.7 Z" fill="#231815"/>
<text x="474.4" y="2846.8" font-size="62.3" text-anchor="start">(c) 2-PE</text>
<text class="cjk" x="686.2" y="2851.6" font-size="62.4" text-anchor="start">渗透性、水渗透性和选择性</text>
<rect x="2655.9" y="1886.8" width="157.7" height="747.9" fill="url(#gb1)"/>
<rect x="2655.9" y="1886.8" width="157.7" height="747.9" fill="url(#hatch)"/>
<line x1="2735.1" y1="2634.7" x2="2735.1" y2="2615.7" stroke="#1b1412" stroke-width="8" stroke-linecap="round"/>
<rect x="3008.2" y="1725.2" width="157.3" height="909.5" fill="url(#gb2)"/>
<rect x="3008.2" y="1725.2" width="157.3" height="909.5" fill="url(#hatch)"/>
<line x1="3088.0" y1="2634.7" x2="3088.0" y2="2615.7" stroke="#1b1412" stroke-width="8" stroke-linecap="round"/>
<rect x="3360.0" y="1609.3" width="158.3" height="1025.4" fill="url(#gb3)"/>
<rect x="3360.0" y="1609.3" width="158.3" height="1025.4" fill="url(#hatch)"/>
<line x1="3440.0" y1="2634.7" x2="3440.0" y2="2615.7" stroke="#1b1412" stroke-width="8" stroke-linecap="round"/>
<rect x="3712.2" y="1776.6" width="158.9" height="858.1" fill="url(#gb4)"/>
<rect x="3712.2" y="1776.6" width="158.9" height="858.1" fill="url(#hatch)"/>
<line x1="3792.0" y1="2634.7" x2="3792.0" y2="2615.7" stroke="#1b1412" stroke-width="8" stroke-linecap="round"/>
<rect x="2553.1" y="1511.9" width="1420.4" height="1122.8" fill="none" stroke="#231815" stroke-width="4.0"/>
<line x1="2553.1" y1="1709.1" x2="2574.9" y2="1709.1" stroke="#231815" stroke-width="4.0" stroke-linecap="butt"/>
<line x1="2553.1" y1="1941.0" x2="2574.9" y2="1941.0" stroke="#231815" stroke-width="4.0" stroke-linecap="butt"/>
<line x1="2553.1" y1="2173.0" x2="2574.9" y2="2173.0" stroke="#231815" stroke-width="4.0" stroke-linecap="butt"/>
<line x1="2553.1" y1="2404.9" x2="2574.9" y2="2404.9" stroke="#231815" stroke-width="4.0" stroke-linecap="butt"/>
<text x="2532.5" y="1729.3" font-size="62.3" text-anchor="end" >40000</text>
<text x="2532.5" y="1962.3" font-size="62.3" text-anchor="end" >30000</text>
<text x="2532.5" y="2195.3" font-size="62.3" text-anchor="end" >20000</text>
<text x="2532.5" y="2428.4" font-size="62.3" text-anchor="end" >10000</text>
<text x="2532.5" y="2661.4" font-size="62.3" text-anchor="end" >0</text>
<text x="2734.4" y="2703.6" font-size="62.3" text-anchor="middle" >12</text>
<text x="3086.3" y="2703.6" font-size="62.3" text-anchor="middle" >24</text>
<text x="3439.4" y="2703.6" font-size="62.3" text-anchor="middle" >36</text>
<text x="3790.5" y="2703.6" font-size="62.3" text-anchor="middle" >48</text>
<text x="3298.4" y="2770.0" font-size="62.3" text-anchor="middle" >Thermal crosslinking time/h</text>
<text transform="translate(2343.0,2074.0) rotate(-90)" font-size="62.3" text-anchor="middle" >PSI/(g·m<tspan dx="3" font-size="28" dy="-23.7">−</tspan><tspan font-size="36" dy="4.5">2</tspan><tspan dy="19.2">·h</tspan><tspan dx="3" font-size="28" dy="-23.7">−</tspan><tspan font-size="36" dy="4.5">1</tspan><tspan dy="19.2">)</tspan></text>
<line x1="2734.5" y1="1855.4" x2="2734.5" y2="1916.5" stroke="#1b1412" stroke-width="3.8" stroke-linecap="butt"/>
<line x1="2719.5" y1="1855.4" x2="2749.5" y2="1855.4" stroke="#1b1412" stroke-width="4.2" stroke-linecap="round"/>
<line x1="2719.5" y1="1916.5" x2="2749.5" y2="1916.5" stroke="#1b1412" stroke-width="4.2" stroke-linecap="round"/>
<line x1="3087.2" y1="1685.2" x2="3087.2" y2="1762.8" stroke="#1b1412" stroke-width="3.8" stroke-linecap="butt"/>
<line x1="3072.2" y1="1685.2" x2="3102.2" y2="1685.2" stroke="#1b1412" stroke-width="4.2" stroke-linecap="round"/>
<line x1="3072.2" y1="1762.8" x2="3102.2" y2="1762.8" stroke="#1b1412" stroke-width="4.2" stroke-linecap="round"/>
<line x1="3440.0" y1="1578.9" x2="3440.0" y2="1637.4" stroke="#1b1412" stroke-width="3.8" stroke-linecap="butt"/>
<line x1="3425.0" y1="1578.9" x2="3455.0" y2="1578.9" stroke="#1b1412" stroke-width="4.2" stroke-linecap="round"/>
<line x1="3425.0" y1="1637.4" x2="3455.0" y2="1637.4" stroke="#1b1412" stroke-width="4.2" stroke-linecap="round"/>
<line x1="3792.0" y1="1730.2" x2="3792.0" y2="1816.9" stroke="#1b1412" stroke-width="3.8" stroke-linecap="butt"/>
<line x1="3777.0" y1="1730.2" x2="3807.0" y2="1730.2" stroke="#1b1412" stroke-width="4.2" stroke-linecap="round"/>
<line x1="3777.0" y1="1816.9" x2="3807.0" y2="1816.9" stroke="#1b1412" stroke-width="4.2" stroke-linecap="round"/>
<text x="3263.5" y="2844.8" font-size="62.3" text-anchor="middle" >(d) PSI</text>
</svg></body></html>
